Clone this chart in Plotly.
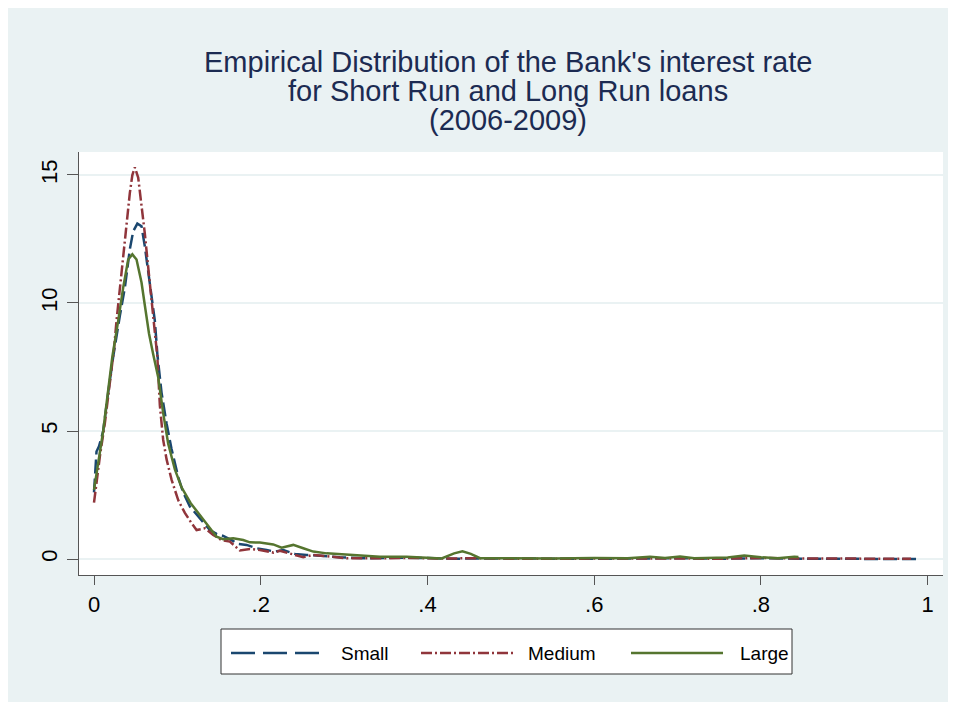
import plotly.graph_objects as go

# ---------------- data ----------------
small_x = [0.000, 0.003, 0.006, 0.011, 0.017, 0.023, 0.031, 0.037, 0.043, 0.047,
           0.052, 0.057, 0.061, 0.065, 0.069, 0.073, 0.076, 0.081, 0.087, 0.093,
           0.101, 0.107, 0.115, 0.127, 0.139, 0.147, 0.155, 0.165, 0.173, 0.183,
           0.195, 0.207, 0.217, 0.227, 0.241, 0.255, 0.271, 0.295, 0.327, 0.360,
           0.400, 0.430, 0.460, 0.500, 0.550, 0.600, 0.650, 0.700, 0.750, 0.800,
           0.850, 0.900, 0.950, 0.990]
small_y = [2.6, 4.2, 4.4, 5.0, 6.5, 7.9, 9.5, 10.6, 12.1, 12.8,
           13.1, 13.0, 12.2, 11.3, 10.4, 9.3, 8.0, 6.5, 5.3, 4.3,
           3.2, 2.6, 2.05, 1.6, 1.13, 0.98, 0.9, 0.74, 0.59, 0.55,
           0.42, 0.35, 0.29, 0.35, 0.2, 0.16, 0.12, 0.07, 0.03, 0.05,
           0.04, 0.01, 0.02, 0.01, 0.02, 0.01, 0.02, 0.03, 0.01, 0.03,
           0.01, 0.01, 0.0, 0.0]

medium_x = [0.000, 0.007, 0.013, 0.019, 0.024, 0.027, 0.031, 0.035, 0.039, 0.043,
            0.046, 0.049, 0.053, 0.057, 0.061, 0.065, 0.069, 0.073, 0.076, 0.079,
            0.083, 0.087, 0.093, 0.101, 0.109, 0.117, 0.123, 0.133, 0.143, 0.153,
            0.163, 0.175, 0.187, 0.199, 0.215, 0.223, 0.235, 0.251, 0.263, 0.283,
            0.303, 0.343, 0.380, 0.420, 0.460, 0.500, 0.550, 0.600, 0.650, 0.700,
            0.750, 0.800, 0.850, 0.900, 0.950, 0.980]
medium_y = [2.2, 4.0, 5.3, 6.9, 8.2, 9.3, 10.6, 11.7, 13.0, 14.3,
            15.0, 15.3, 14.9, 13.9, 12.7, 11.4, 10.1, 8.8, 7.9, 6.0,
            4.65, 3.9, 3.1, 2.3, 1.8, 1.4, 1.13, 1.2, 0.94, 0.74,
            0.68, 0.33, 0.39, 0.35, 0.25, 0.32, 0.22, 0.07, 0.16, 0.09,
            0.03, 0.03, 0.04, 0.02, 0.03, 0.01, 0.02, 0.01, 0.02, 0.02,
            0.01, 0.04, 0.02, 0.02, 0.01, 0.01]

large_x = [0.000, 0.005, 0.011, 0.017, 0.022, 0.029, 0.035, 0.041, 0.046, 0.051,
           0.057, 0.061, 0.066, 0.071, 0.077, 0.083, 0.089, 0.097, 0.105, 0.116,
           0.127, 0.139, 0.147, 0.155, 0.167, 0.179, 0.187, 0.199, 0.215, 0.225,
           0.239, 0.251, 0.263, 0.279, 0.303, 0.327, 0.343, 0.375, 0.407, 0.417,
           0.432, 0.442, 0.452, 0.463, 0.500, 0.550, 0.600, 0.640, 0.667, 0.685,
           0.703, 0.720, 0.760, 0.780, 0.800, 0.820, 0.840, 0.845]
large_y = [2.7, 3.7, 5.0, 6.6, 7.9, 9.3, 10.6, 11.7, 11.9, 11.7,
           10.8, 9.9, 8.8, 8.0, 7.1, 5.7, 4.5, 3.5, 2.8, 2.18,
           1.72, 1.2, 0.87, 0.77, 0.81, 0.74, 0.65, 0.64, 0.57, 0.44,
           0.55, 0.42, 0.29, 0.22, 0.16, 0.12, 0.09, 0.09, 0.04, 0.02,
           0.22, 0.30, 0.2, 0.03, 0.03, 0.02, 0.04, 0.03, 0.09, 0.04,
           0.10, 0.03, 0.06, 0.14, 0.07, 0.03, 0.09, 0.08]

series_names = ["Small", "Medium", "Large"]
x_tickvals = [0, 0.2, 0.4, 0.6, 0.8, 1]
x_ticktext = ["0", ".2", ".4", ".6", ".8", "1"]
y_tickvals = [0, 5, 10, 15]
y_ticktext = ["0", "5", "10", "15"]
title_lines = ["Empirical Distribution of the Bank's interest rate",
               "for Short Run and Long Run loans",
               "(2006-2009)"]

# ---------------- styling ----------------
W, H = 956, 702
OFF = 8  # page margin of the browser: figure origin sits at (8, 8) on screen
# plot area measured on screen: x 79..943, y 152..575
ML, MT = 79 - OFF, 152 - OFF
MR, MB = W - (943 - OFF), H - (575 - OFF)
PW, PH = W - ML - MR, H - MT - MB
FONT = "Liberation Sans, Arial, Helvetica, sans-serif"
BG = "#eaf2f3"
NAVY, MAROON, GREEN = "#1a476f", "#90353b", "#55752f"
colors = [NAVY, MAROON, GREEN]
dashes = ["14px,5px", "11px,3px,2px,3px", "solid"]
legend_dashes = ["24px,8px", "11px,3px,2px,3px", "solid"]


def px(xs):
    """screen x pixel -> paper coordinate"""
    return (xs - OFF - ML) / PW


def py(ys):
    """screen y pixel -> paper coordinate"""
    return (H - MB - (ys - OFF)) / PH


fig = go.Figure()
for name, xs, ys, c, d in zip(series_names, [small_x, medium_x, large_x],
                              [small_y, medium_y, large_y], colors, dashes):
    fig.add_trace(go.Scatter(x=xs, y=ys, mode="lines", name=name,
                             line=dict(color=c, width=2.5, dash=d),
                             showlegend=False))

shapes = [
    dict(type="rect", xref="paper", yref="paper", x0=px(221), x1=px(792), y0=py(674), y1=py(629),
         fillcolor="white", line=dict(color="#333333", width=1)),
]
annotations = []
leg_items = [(231, 323, 339), (421, 514, 526), (631, 723, 738)]
for (x0, x1, tx), name, c, d in zip(leg_items, series_names, colors, legend_dashes):
    shapes.append(dict(type="line", xref="paper", yref="paper", x0=px(x0), x1=px(x1),
                       y0=py(653), y1=py(653), line=dict(color=c, width=2.5, dash=d)))
    annotations.append(dict(text=name, xref="paper", yref="paper", x=px(tx), y=py(653),
                            xanchor="left", yanchor="middle", showarrow=False,
                            font=dict(family=FONT, size=19, color="black")))

for line, yc in zip(title_lines, [62.5, 91.3, 119.5]):
    annotations.append(dict(text=line, xref="paper", yref="paper", x=px(508), y=py(yc),
                            xanchor="center", yanchor="middle", showarrow=False,
                            font=dict(family=FONT, size=29, color="#1c2b52")))

fig.update_layout(
    width=W, height=H,
    margin=dict(l=ML, r=MR, t=MT, b=MB, pad=0),
    paper_bgcolor=BG, plot_bgcolor="white",
    font=dict(family=FONT, color="black"),
    shapes=shapes, annotations=annotations,
    xaxis=dict(range=[-0.018, 1.0184], tickvals=x_tickvals, ticktext=x_ticktext,
               showgrid=False, zeroline=False, showline=True, linecolor="#555555",
               linewidth=1.2, ticks="outside", ticklen=9, tickcolor="#555555",
               tickfont=dict(size=22, color="black")),
    yaxis=dict(range=[-0.625, 15.898], tickvals=y_tickvals, ticktext=y_ticktext,
               showgrid=True, gridcolor=BG, gridwidth=2, zeroline=False,
               showline=True, linecolor="#555555", linewidth=1.2, ticks="outside",
               ticklen=11, tickcolor="#555555", tickangle=-90, ticklabelstandoff=1,
               tickfont=dict(size=22, color="black")),
)

fig.write_html("out.html")
